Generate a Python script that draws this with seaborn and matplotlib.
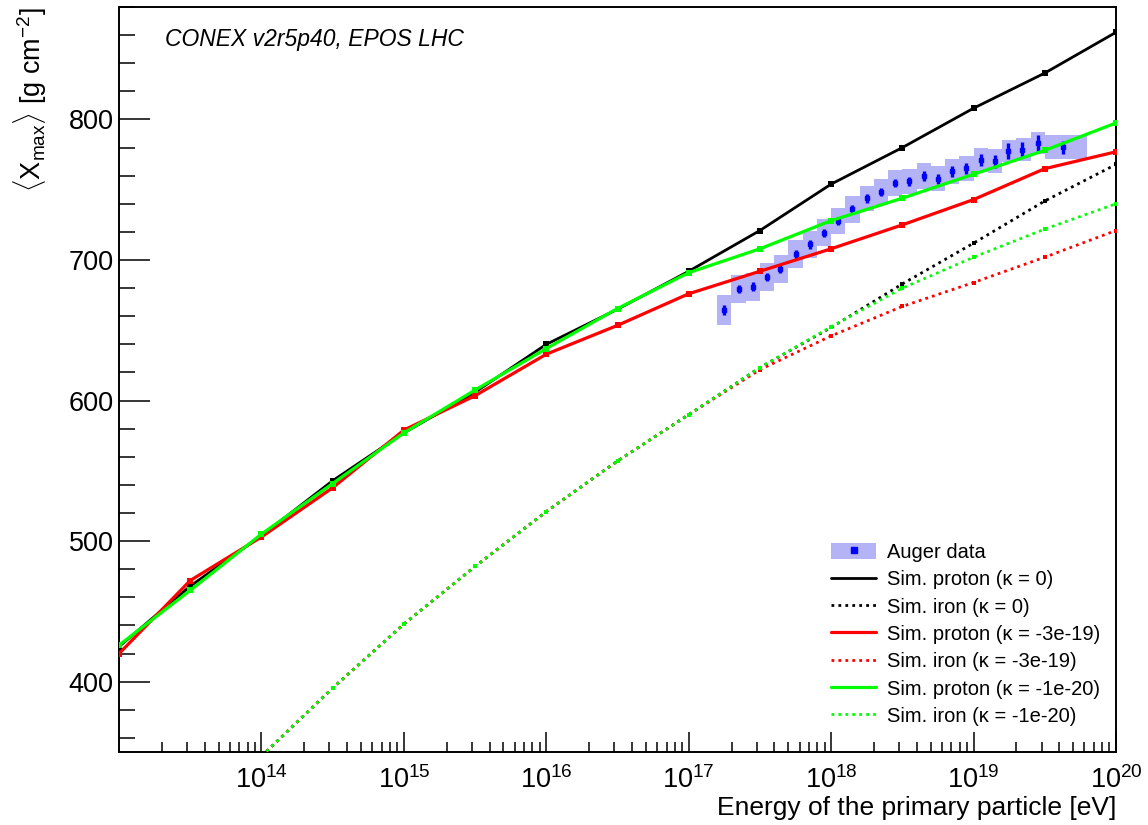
import matplotlib
matplotlib.use('Agg')
import matplotlib.pyplot as plt
import matplotlib.ticker as mticker
from matplotlib.patches import Patch
from matplotlib.lines import Line2D
import seaborn as sns
import numpy as np
import pandas as pd

# Simulated <Xmax> (CONEX, EPOS LHC), half-decade energy steps
log_e_sim = [13.0, 13.5, 14.0, 14.5, 15.0, 15.5, 16.0, 16.5, 17.0, 17.5, 18.0, 18.5, 19.0, 19.5, 20.0]
proton_k0 = [425, 468, 504, 543, 577, 606, 640, 665, 692, 721, 754, 780, 808, 833, 862]
proton_k3e19 = [420, 472, 503, 538, 579, 603.5, 633, 653.5, 676, 692, 708, 725, 743, 765, 777]
proton_k1e20 = [426, 465, 505, 541, 577, 607.5, 637, 665.5, 691, 708, 728, 744, 761, 778, 797.5]

log_e_iron = [14.0, 14.5, 15.0, 15.5, 16.0, 16.5, 17.0, 17.5, 18.0, 18.5, 19.0, 19.5, 20.0]
iron_k0 = [347, 395.5, 441, 482, 521, 557, 590, 623.5, 652, 683, 712, 742, 768]
iron_k3e19 = [347, 395.5, 441, 482, 521, 557, 590, 622, 646, 667, 684, 702, 721]
iron_k1e20 = [347, 395.5, 441, 482, 521, 557, 590, 623.5, 652.5, 680, 702, 722, 740]

# Auger data
auger_log_e = [17.25, 17.35, 17.45, 17.55, 17.64, 17.75, 17.85, 17.95, 18.05, 18.15, 18.25, 18.35,
               18.45, 18.55, 18.65, 18.75, 18.85, 18.95, 19.05, 19.15, 19.24, 19.34, 19.45, 19.63]
auger_bin_lo = [17.2, 17.3, 17.4, 17.5, 17.6, 17.7, 17.8, 17.9, 18.0, 18.1, 18.2, 18.3,
                18.4, 18.5, 18.6, 18.7, 18.8, 18.9, 19.0, 19.1, 19.2, 19.3, 19.4, 19.5]
auger_bin_hi = [17.3, 17.4, 17.5, 17.6, 17.7, 17.8, 17.9, 18.0, 18.1, 18.2, 18.3, 18.4,
                18.5, 18.6, 18.7, 18.8, 18.9, 19.0, 19.1, 19.2, 19.3, 19.4, 19.5, 19.8]
auger_xmax = [664.5, 679.2, 681.1, 687.9, 693.8, 704.0, 711.1, 719.4, 727.7, 736.0, 743.8, 748.5,
              754.9, 755.9, 759.7, 757.8, 763.2, 765.2, 771.1, 770.3, 777.4, 778.6, 783.3, 780.2]
auger_stat = [3.5, 3, 3, 3, 3, 3, 3, 3, 3, 3, 3, 3, 3, 3.5, 3.5, 3.5, 4, 4, 4.5, 4.5, 5.5, 5.5, 6, 4.5]
auger_sys = [10.5, 10, 10, 10, 10, 10, 9.5, 9.5, 9.5, 9.5, 9, 9, 9, 9, 9, 9, 9, 9, 8.5, 8.5, 8, 8, 8, 8.5]

sns.set_style('ticks')
plt.rcParams['font.family'] = ['Liberation Sans', 'DejaVu Sans']
plt.rcParams['mathtext.fontset'] = 'custom'
plt.rcParams['mathtext.rm'] = 'Liberation Sans'
plt.rcParams['mathtext.it'] = 'Liberation Sans:italic'
plt.rcParams['mathtext.sf'] = 'Liberation Sans'
for k in ['text.color', 'axes.labelcolor', 'xtick.color', 'ytick.color', 'axes.edgecolor']:
    plt.rcParams[k] = 'black'

fig = plt.figure(figsize=(11.48, 8.25), dpi=100)
ax = fig.add_axes([0.1037, 0.0885, 0.8684, 0.903])

# Auger systematic boxes + stat error bars
lo = 10 ** np.array(auger_bin_lo)
hi = 10 ** np.array(auger_bin_hi)
xm = np.array(auger_xmax)
sy = np.array(auger_sys)
box_col = '#b3b3f6'
ax.bar(lo, 2 * sy, bottom=xm - sy, width=hi - lo, align='edge', color=box_col, linewidth=0, zorder=1)
ax.errorbar(10 ** np.array(auger_log_e), auger_xmax, yerr=auger_stat, fmt='s', ms=2.5, color='#0000ff',
            elinewidth=2.4, capsize=0, zorder=2)

sim = pd.DataFrame({'E': 10 ** np.array(log_e_sim), 'p0': proton_k0, 'p3': proton_k3e19, 'p1': proton_k1e20})
iron = pd.DataFrame({'E': 10 ** np.array(log_e_iron), 'f0': iron_k0, 'f3': iron_k3e19, 'f1': iron_k1e20})

dot = (0, (1, 1.5))
for pcol, fcol, color, lw in [('p0', 'f0', 'black', 2.0), ('p3', 'f3', '#ff0000', 2.3), ('p1', 'f1', '#00ff00', 2.3)]:
    sns.lineplot(data=sim, x='E', y=pcol, color=color, lw=lw, marker='s', ms=4, mew=0,
                 estimator=None, ax=ax, zorder=3)
    sns.lineplot(data=iron, x='E', y=fcol, color=color, lw=2.0, linestyle=dot, marker='s', ms=3.5, mew=0,
                 estimator=None, ax=ax, zorder=3)

ax.set_xscale('log')
ax.set_xlim(1e13, 1e20)
ax.set_ylim(350, 880)

ax.xaxis.set_major_locator(mticker.FixedLocator([1e14, 1e15, 1e16, 1e17, 1e18, 1e19, 1e20]))
ax.xaxis.set_major_formatter(mticker.LogFormatterSciNotation())
ax.xaxis.set_minor_locator(mticker.LogLocator(base=10, subs=np.arange(2, 10), numticks=20))
ax.xaxis.set_minor_formatter(mticker.NullFormatter())
ax.yaxis.set_major_locator(mticker.MultipleLocator(100))
ax.yaxis.set_minor_locator(mticker.MultipleLocator(20))

ax.tick_params(axis='x', which='major', direction='in', length=14.5, width=1.1, labelsize=19.5, pad=10)
ax.tick_params(axis='x', which='minor', direction='in', length=7.5, width=1.1)
ax.tick_params(axis='y', which='major', direction='in', length=22, width=1.1, labelsize=19.5, pad=4)
ax.tick_params(axis='y', which='minor', direction='in', length=11.5, width=1.1)
ax.tick_params(top=False, right=False, which='both')
for s in ax.spines.values():
    s.set_linewidth(1.4)

ax.set_xlabel('Energy of the primary particle [eV]', fontsize=19, loc='right', labelpad=2)
ax.set_ylabel(r'$\langle\mathrm{X}_{\mathrm{max}}\rangle$ [g cm$^{-2}$]', fontsize=19.5, loc='top', labelpad=14)

ax.text(0.046, 0.956, 'CONEX v2r5p40, EPOS LHC', transform=ax.transAxes, fontsize=16.5,
        style='italic', va='center', ha='left')

handles = [
    (Patch(facecolor=box_col, edgecolor='none'), Line2D([], [], marker='s', ls='', color='#0000ff', ms=5)),
    Line2D([], [], color='black', lw=2.0),
    Line2D([], [], color='black', lw=2.0, linestyle=dot),
    Line2D([], [], color='#ff0000', lw=2.3),
    Line2D([], [], color='#ff0000', lw=2.0, linestyle=dot),
    Line2D([], [], color='#00ff00', lw=2.3),
    Line2D([], [], color='#00ff00', lw=2.0, linestyle=dot),
]
labels = ['Auger data', 'Sim. proton (κ = 0)', 'Sim. iron (κ = 0)', 'Sim. proton (κ = -3e-19)',
          'Sim. iron (κ = -3e-19)', 'Sim. proton (κ = -1e-20)', 'Sim. iron (κ = -1e-20)']
ax.legend(handles, labels, loc='upper left', bbox_to_anchor=(0.714, 0.281), frameon=False, fontsize=14.5,
          borderpad=0, borderaxespad=0, handlelength=2.25, handletextpad=0.55, labelspacing=0.4,
          handleheight=0.9)

fig.savefig('out.png', dpi=100)
